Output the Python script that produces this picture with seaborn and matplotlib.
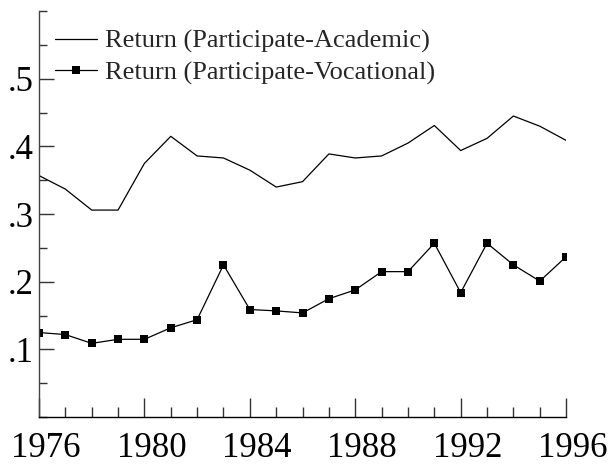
import matplotlib
matplotlib.use("Agg")
import matplotlib.pyplot as plt
import matplotlib.transforms as mtransforms
import seaborn as sns
import pandas as pd
from matplotlib.ticker import MultipleLocator, FixedLocator, FixedFormatter

years = list(range(1976, 1997))
academic = [0.357, 0.337, 0.306, 0.306, 0.375, 0.415, 0.386, 0.383, 0.365, 0.340, 0.348,
            0.389, 0.383, 0.386, 0.405, 0.431, 0.394, 0.412, 0.445, 0.430, 0.409]
vocational = [0.125, 0.122, 0.109, 0.115, 0.115, 0.132, 0.144, 0.225, 0.159, 0.157, 0.154,
              0.175, 0.188, 0.215, 0.215, 0.257, 0.184, 0.257, 0.225, 0.201, 0.237]
label_acad = "Return (Participate-Academic)"
label_voc = "Return (Participate-Vocational)"
xticks = [1976, 1980, 1984, 1988, 1992, 1996]
yticks = [0.1, 0.2, 0.3, 0.4, 0.5]
ytick_labels = [".1", ".2", ".3", ".4", ".5"]

sns.set_style("ticks")
plt.rcParams['font.family'] = ['Liberation Serif', 'DejaVu Serif']

df = pd.DataFrame({"year": years, "acad": academic, "voc": vocational})

fig = plt.figure(figsize=(6.14, 4.65), dpi=100)
ax = fig.add_axes([0.0635, 0.103, 0.8585, 0.873])

sns.lineplot(data=df, x="year", y="acad", ax=ax, color="black", linewidth=0.9,
             label=label_acad)
sns.lineplot(data=df, x="year", y="voc", ax=ax, color="black", linewidth=0.9,
             marker="s", markersize=6, markeredgewidth=0, label=label_voc)

ax.set_xlim(1976, 1996)
ax.set_ylim(0, 0.6)
ax.set_xlabel("")
ax.set_ylabel("")
ax.xaxis.set_major_locator(FixedLocator(xticks))
ax.xaxis.set_minor_locator(MultipleLocator(1))
ax.yaxis.set_major_locator(FixedLocator(yticks))
ax.yaxis.set_major_formatter(FixedFormatter(ytick_labels))
ax.yaxis.set_minor_locator(MultipleLocator(0.05))
ax.tick_params(axis="both", which="both", direction="in", colors="#333333", labelcolor="black")
ax.tick_params(axis="x", which="major", length=14, width=1, labelsize=25, pad=11)
ax.tick_params(axis="x", which="minor", length=7, width=1)
ax.tick_params(axis="y", which="major", length=11, width=1, labelsize=25, pad=4)
ax.tick_params(axis="y", which="minor", length=6, width=1)
for s in ["top", "right"]:
    ax.spines[s].set_visible(False)
for s in ["left", "bottom"]:
    ax.spines[s].set_linewidth(1)
ax.spines["left"].set_color("#444444")
ax.spines["bottom"].set_color("black")

offset = mtransforms.ScaledTranslation(7 / 100, 0, fig.dpi_scale_trans)
for lab in ax.get_xticklabels():
    lab.set_transform(lab.get_transform() + offset)

leg = ax.legend(loc="upper left", bbox_to_anchor=(0.03, 0.955), frameon=False,
                fontsize=19, handlelength=1.6, handletextpad=0.3, labelspacing=0.3,
                borderaxespad=0, borderpad=0)

fig.savefig("out.png", dpi=100)
